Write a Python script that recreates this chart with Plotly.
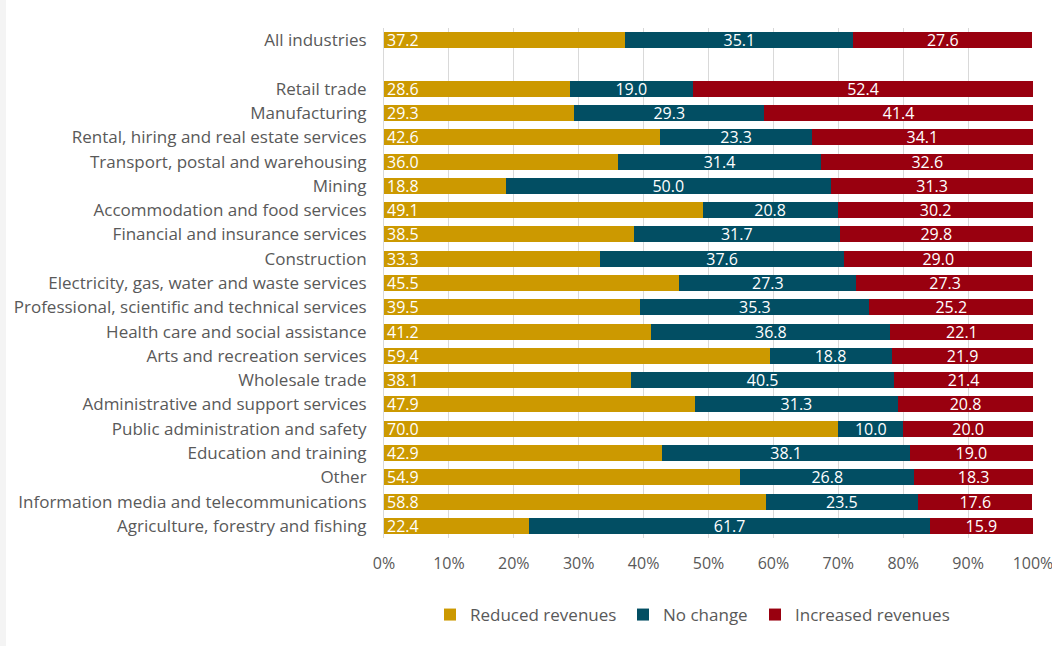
import plotly.graph_objects as go

# Share of businesses by change in revenue, per industry (%)
industries = [
    "All industries",
    "Retail trade",
    "Manufacturing",
    "Rental, hiring and real estate services",
    "Transport, postal and warehousing",
    "Mining",
    "Accommodation and food services",
    "Financial and insurance services",
    "Construction",
    "Electricity, gas, water and waste services",
    "Professional, scientific and technical services",
    "Health care and social assistance",
    "Arts and recreation services",
    "Wholesale trade",
    "Administrative and support services",
    "Public administration and safety",
    "Education and training",
    "Other",
    "Information media and telecommunications",
    "Agriculture, forestry and fishing",
]
reduced = [37.2, 28.6, 29.3, 42.6, 36.0, 18.8, 49.1, 38.5, 33.3, 45.5,
           39.5, 41.2, 59.4, 38.1, 47.9, 70.0, 42.9, 54.9, 58.8, 22.4]
no_change = [35.1, 19.0, 29.3, 23.3, 31.4, 50.0, 20.8, 31.7, 37.6, 27.3,
             35.3, 36.8, 18.8, 40.5, 31.3, 10.0, 38.1, 26.8, 23.5, 61.7]
increased = [27.6, 52.4, 41.4, 34.1, 32.6, 31.3, 30.2, 29.8, 29.0, 27.3,
             25.2, 22.1, 21.9, 21.4, 20.8, 20.0, 19.0, 18.3, 17.6, 15.9]

series_names = ["Reduced revenues", "No change", "Increased revenues"]
series_colors = ["#CC9900", "#024E63", "#99000F"]
x_ticks = [0, 10, 20, 30, 40, 50, 60, 70, 80, 90, 100]

# An empty slot separates the total from the individual industries
SPACER = " "
order = [industries[0], SPACER] + industries[1:]


def with_spacer(vals):
    return [vals[0], None] + vals[1:]


# Plot area geometry in pixels
W, H = 1052, 646
ML, MR, MT, MB = 384, 19, 28, 108
PW, PH = W - ML - MR, H - MT - MB


def px_x(px):
    return (px - ML) / PW


def px_y(py):
    return (H - MB - py) / PH


FONT = "'Open Sans', sans-serif"
legend_ids = ["legend", "legend2", "legend3"]
legend_text_x = [470, 663, 795]

fig = go.Figure()
for name, color, vals, anchor, lid in zip(
        series_names, series_colors, [reduced, no_change, increased],
        ["start", "middle", "middle"], legend_ids):
    v = with_spacer(vals)
    fig.add_trace(go.Bar(
        y=order, x=v, name=name, orientation="h", legend=lid,
        marker=dict(color=color, line=dict(width=0)),
        text=[None if t is None else f"{t:.1f}" for t in v],
        textposition="inside", insidetextanchor=anchor,
        textfont=dict(color="white", size=16, family=FONT),
        hoverinfo="skip",
    ))

legend_common = dict(orientation="h", xanchor="left", yanchor="middle",
                     xref="paper", yref="paper", y=px_y(615),
                     font=dict(size=17, color="#595959"), itemwidth=30,
                     bgcolor="rgba(0,0,0,0)")
legend_layout = {lid: dict(legend_common, x=px_x(tx - 40))
                 for lid, tx in zip(legend_ids, legend_text_x)}

fig.update_layout(
    barmode="stack",
    bargap=0.34,
    width=W, height=H,
    margin=dict(l=ML, r=MR, t=MT, b=MB, autoexpand=False),
    paper_bgcolor="white", plot_bgcolor="white",
    font=dict(family=FONT, size=16, color="#595959"),
    uniformtext=dict(minsize=16, mode="show"),
    showlegend=True,
    shapes=[dict(type="rect", xref="paper", yref="paper",
                 x0=px_x(0), x1=px_x(6), y0=px_y(H), y1=px_y(0),
                 fillcolor="#F4F4F4", line=dict(width=0), layer="above")],
    **legend_layout,
)
fig.update_xaxes(
    range=[0, 100], tickvals=x_ticks, ticktext=[f"{t}%" for t in x_ticks],
    showgrid=True, gridcolor="#D9D9D9", gridwidth=1,
    zeroline=False, showline=False, ticks="", ticklabelstandoff=14,
    ticklabeloverflow="allow", automargin=False,
    tickfont=dict(size=16, color="#595959"),
)
fig.update_yaxes(
    categoryorder="array", categoryarray=order, autorange="reversed",
    showgrid=False, zeroline=False, showline=True, linecolor="#D9D9D9",
    ticks="", ticklabelstandoff=13, automargin=False,
    tickfont=dict(size=17, color="#595959"),
)

fig.write_html("out.html")
